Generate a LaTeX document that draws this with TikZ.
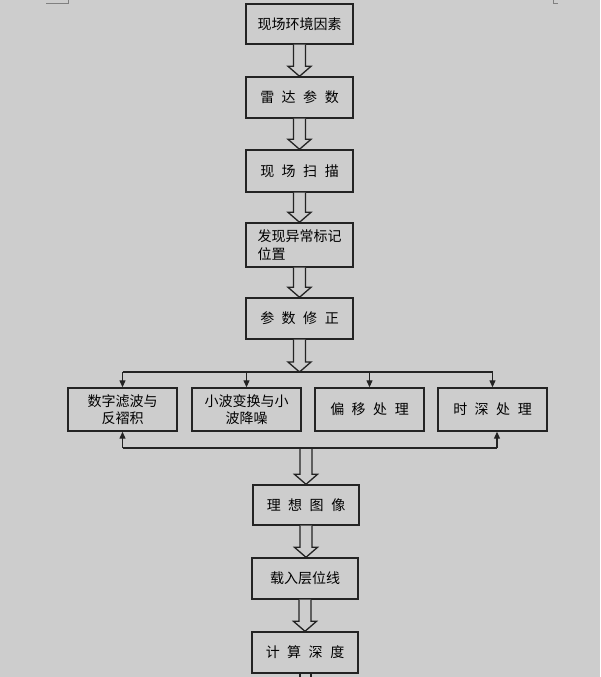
\documentclass[tikz,border=0pt]{standalone}
\usepackage{fontspec}
\setmainfont{Noto Sans CJK SC}
\newfontfamily\cjk{Noto Sans CJK SC}
\usetikzlibrary{calc,arrows.meta}
\definecolor{bgc}{RGB}{205,205,205}
\definecolor{ink}{RGB}{35,35,35}
\newcommand\boxfont{\cjk\fontsize{14pt}{17.5pt}\selectfont\spaceskip=7.5pt\relax}
\newcommand\holarrow[2]{%
  \draw[hol] let \p1=#1, \p2=#2 in
    (\x1-6pt,\y1) -- (\x1-6pt,\y2+10pt) -- (\x1-11.5pt,\y2+10pt) -- (\x1,\y2)
    -- (\x1+11.5pt,\y2+10pt) -- (\x1+6pt,\y2+10pt) -- (\x1+6pt,\y1);}
\begin{document}
\begin{tikzpicture}[x=1pt,y=-1pt,
  box/.style={draw=ink, line width=1.4pt, fill=bgc, inner sep=0pt, text=black,
    font=\boxfont},
  topbox/.style={box, minimum width=107pt},
  midbox/.style={box, minimum width=109pt, minimum height=43pt},
  lowbox/.style={box, minimum width=106pt},
  hol/.style={draw=ink, line width=1.3pt, fill=bgc, line join=miter},
  conn/.style={draw=ink, line width=1.2pt, -{Triangle[length=7pt,width=6pt]}},
  plain/.style={draw=ink, line width=1.2pt},
  cornermark/.style={draw=gray, line width=0.8pt}]
\fill[bgc] (0,0) rectangle (600,677);
\useasboundingbox (0,0) rectangle (600,677);
\draw[cornermark] (46,3) -- (68,3) -- (68,0);
\draw[cornermark] (553,0) -- (553,3) -- (558,3);
% top column
\node[topbox, minimum height=40pt] (b1) at (299.5,24) {现场环境因素};
\node[topbox, minimum height=41pt] (b2) at (299.5,97.5) {雷 达 参 数};
\node[topbox, minimum height=42pt] (b3) at (299.5,171) {现 场 扫 描};
\node[topbox, minimum height=44pt, align=left] (b4) at (299.5,245) {发现异常标记\\位置};
\node[topbox, minimum height=41pt] (b5) at (299.5,318.5) {参 数 修 正};
% processing row
\node[midbox, align=center] (b6) at (122.5,409.5) {数字滤波与\\反褶积};
\node[midbox, align=center] (b7) at (246.5,409.5) {小波变换与小\\波降噪};
\node[midbox] (b8) at (369.5,409.5) {偏 移 处 理};
\node[midbox] (b9) at (492.5,409.5) {时 深 处 理};
% lower column
\node[lowbox, minimum height=40pt] (b10) at (306,505) {理 想 图 像};
\node[lowbox, minimum height=41pt] (b11) at (305,578.5) {载入层位线};
\node[lowbox, minimum height=41pt] (b12) at (305,652.5) {计 算 深 度};
% hollow arrows
\holarrow{(b1.south)}{(b2.north)}
\holarrow{(b2.south)}{(b3.north)}
\holarrow{(b3.south)}{(b4.north)}
\holarrow{(b4.south)}{(b5.north)}
\coordinate (split) at (299.5,372);
\holarrow{(b5.south)}{(split)}
\coordinate (join) at (306,448);
\holarrow{(join)}{(b10.north)}
\holarrow{(b10.south)}{(b11.north)}
\holarrow{(b11.south)}{(b12.north)}
\begin{scope}
\clip (0,0) rectangle (600,677);
\draw[hol] let \p1=(b12.south) in (\x1-5pt,\y1) -- (\x1-5pt,\y1-10pt) -- (\x1+6pt,\y1-10pt) -- (\x1+6pt,\y1);
\end{scope}
% split line
\draw[plain] (b6.north |- split) -- (b9.north |- split);
\foreach \b in {b6,b7,b8,b9} \draw[conn] (\b.north |- split) -- (\b.north);
% join line
\coordinate (jr) at ($(b9.south)+(4.5,0)$);
\coordinate (jl) at (b6.south |- join);
\coordinate (jrr) at (jr |- join);
\draw[plain] (jl) -- (jrr);
\draw[conn] (jl) -- (b6.south);
\draw[conn] (jrr) -- (jr);
\end{tikzpicture}
\end{document}
